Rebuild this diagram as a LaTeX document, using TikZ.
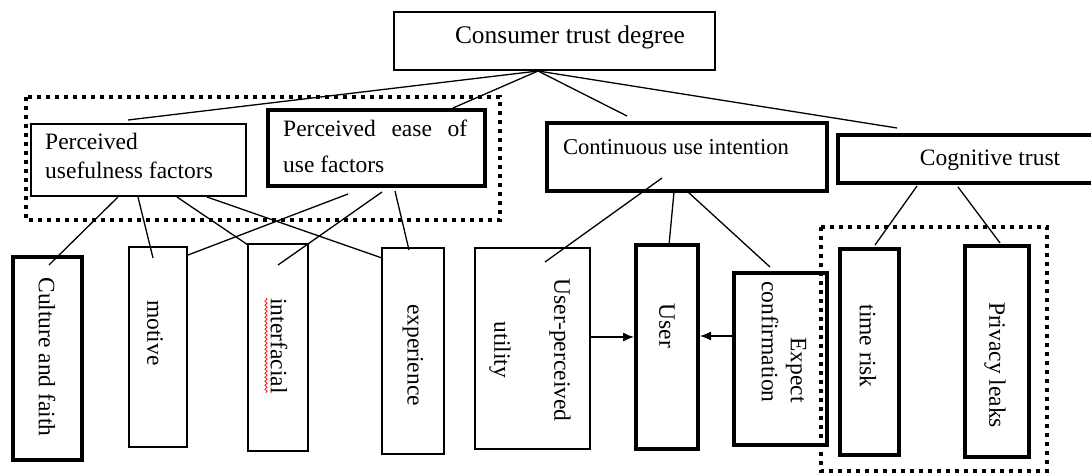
\documentclass[tikz,border=0pt]{standalone}
\usepackage{fontspec}
\setmainfont{Liberation Serif}
\usetikzlibrary{arrows.meta,decorations.pathmorphing}
\tikzset{
  thinbox/.style={draw=black, line width=1.3pt, inner sep=0pt},
  thickbox/.style={draw=black, line width=4pt, inner sep=0pt},
  txt/.style={inner sep=0pt, font=\fontsize{23.5}{29}\selectfont},
  vtxt/.style={txt, rotate=-90},
  conn/.style={draw=black, line width=1.3pt},
  dotbox/.style={draw=black, line width=4pt, dash pattern=on 4pt off 5pt},
  arr/.style={draw=black, line width=1.3pt, -{Latex[length=11pt,width=9pt]}},
  wavy/.style={draw=red, line width=0.7pt, decorate, decoration={snake, amplitude=1.2pt, segment length=4pt}}
}
\begin{document}
\begin{tikzpicture}[x=1pt,y=-1pt]
\useasboundingbox (0,0) rectangle (1091,473);
\clip (0,0) rectangle (1091,473);
\fill[white] (0,0) rectangle (1091,473);

% dotted groups
\draw[dotbox] (26,97) rectangle (500,220);
\draw[dotbox] (821,227) rectangle (1047,471);

% upper boxes
\node[thinbox, minimum width=321pt, minimum height=58pt] (top) at (554.5,41) {};
\node[txt, font=\fontsize{25.4}{30}\selectfont] (toptxt) at (570,37) {Consumer trust degree};

\node[thinbox, minimum width=215pt, minimum height=72pt] (pu) at (138.5,160) {};
\node[txt, anchor=north west, align=left] (putxt) at (45,133) {Perceived\\usefulness factors};

\node[thickbox, minimum width=217pt, minimum height=76pt] (pe) at (376.5,148) {};
\node[txt, anchor=north west, align=left] (petxt) at (283,120) {\makebox[184pt][s]{Perceived\hfill ease\hfill of}\\[7pt]use factors};

\node[thickbox, minimum width=280pt, minimum height=68pt] (ci) at (687,157) {};
\node[txt, font=\fontsize{22.6}{28}\selectfont] (citxt) at (676,147) {Continuous use intention};

\node[thickbox, minimum width=262pt, minimum height=48pt] (ct) at (969,159) {};
\node[txt] (cttxt) at (990,160) {Cognitive trust};

% lower boxes
\node[thickbox, minimum width=69pt, minimum height=203pt] (cf) at (47.5,358.5) {};
\node[vtxt] (cftxt) at (47,357) {Culture and faith};

\node[thinbox, minimum width=58pt, minimum height=200pt] (mo) at (158,347) {};
\node[vtxt] (motxt) at (155,333) {motive};

\node[thinbox, minimum width=60pt, minimum height=207pt] (in) at (278,347.5) {};
\node[vtxt] (intxt) at (279,346) {interfacial};
\draw[wavy] (266,298) -- (266,393);

\node[thinbox, minimum width=62pt, minimum height=206pt] (ex) at (413,351) {};
\node[vtxt] (extxt) at (413,355) {experience};

\node[thinbox, minimum width=115pt, minimum height=201pt] (up) at (532.5,348.5) {};
\node[vtxt, align=center] (uptxt) at (530,350) {User-perceived\\[31pt]utility};

\node[thickbox, minimum width=62pt, minimum height=204pt] (us) at (667,347) {};
\node[vtxt] (ustxt) at (667,326) {User};

\node[thickbox, minimum width=93pt, minimum height=172pt] (ec) at (780.5,359) {};
\node[vtxt, align=right] (ectxt) at (784,342) {Expect\\confirmation};

\node[thickbox, minimum width=59pt, minimum height=206pt] (tr) at (869.5,352) {};
\node[vtxt] (trtxt) at (868,346) {time risk};

\node[thickbox, minimum width=64pt, minimum height=211pt] (pl) at (997,351.5) {};
\node[vtxt] (pltxt) at (995,365) {Privacy leaks};

% connector end points
\coordinate (hub) at (538,71);
\coordinate (hpu) at (128,120);
\coordinate (hpe) at (453,108);
\coordinate (hci) at (627,116);
\coordinate (hct) at (897,128);

\draw[conn] (hub) -- (hpu);
\draw[conn] (hub) -- (hpe);
\draw[conn] (hub) -- (hci);
\draw[conn] (hub) -- (hct);

% perceived usefulness
\coordinate (pu1) at (118,197);
\coordinate (pu2) at (138,197);
\coordinate (pu3) at (177,197);
\coordinate (pu4) at (207,197);
\coordinate (cfe) at (49,265);
\coordinate (moe) at (153,258);
\coordinate (ine) at (248,245);
\coordinate (exe) at (382,258);
\draw[conn] (pu1) -- (cfe);
\draw[conn] (pu2) -- (moe);
\draw[conn] (pu3) -- (ine);
\draw[conn] (pu4) -- (exe);

% perceived ease
\coordinate (pe1) at (348,194);
\coordinate (pe2) at (382,192);
\coordinate (pe3) at (395,191);
\coordinate (moe2) at (188,255);
\coordinate (ine2) at (278,265);
\coordinate (exe2) at (409,250);
\draw[conn] (pe1) -- (moe2);
\draw[conn] (pe2) -- (ine2);
\draw[conn] (pe3) -- (exe2);

% continuous use intention
\coordinate (ci1) at (662,178);
\coordinate (ci2) at (674,192);
\coordinate (ci3) at (688,192);
\coordinate (upe) at (545,262);
\coordinate (use) at (669,245);
\coordinate (ece) at (770,267);
\draw[conn] (ci1) -- (upe);
\draw[conn] (ci2) -- (use);
\draw[conn] (ci3) -- (ece);

% cognitive trust
\coordinate (ct1) at (917,186);
\coordinate (ct2) at (958,187);
\coordinate (tre) at (875,245);
\coordinate (ple) at (1000,243);
\draw[conn] (ct1) -- (tre);
\draw[conn] (ct2) -- (ple);

% arrows into User
\draw[arr] (up.east |- 0,337) -- (us.west |- 0,337);
\draw[arr] (ec.west |- 0,336) -- (us.east |- 0,336);
\end{tikzpicture}
\end{document}
